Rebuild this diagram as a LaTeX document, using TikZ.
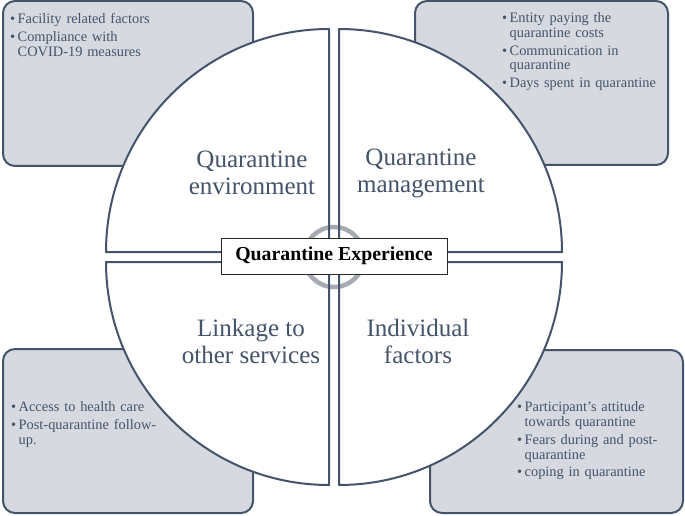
\documentclass[tikz,border=0pt]{standalone}
\usepackage{fontspec}
\setmainfont{Liberation Serif}
\usepackage{tikz}
\usetikzlibrary{positioning}
\definecolor{slate}{RGB}{68,84,106}
\definecolor{panelgrey}{RGB}{214,217,223}
\definecolor{ringgrey}{RGB}{166,170,178}
\newcommand{\bul}[1]{\par\hangindent=7.5pt\hangafter=1\noindent\makebox[7.5pt][l]{\textbullet}#1\par}

\begin{document}
\begin{tikzpicture}[x=1pt,y=1pt, every node/.style={text=slate}, panel/.style={draw=slate,line width=2pt,fill=panelgrey,rounded corners=12pt,inner sep=0pt}, items/.style={anchor=north west,inner sep=0pt,text width=240pt,align=left,font=\fontsize{14.4}{14.8}\selectfont,execute at begin node={\setlength{\parskip}{2.8pt}}}, lbl/.style={align=center,font=\fontsize{25}{27}\selectfont}, core/.style={draw=black!85,line width=0.9pt,fill=white,text=black,font=\bfseries\fontsize{19.8}{22}\selectfont,minimum width=226pt,minimum height=36pt,inner sep=0pt}, rim/.style={draw=slate,line width=2pt,line join=round}]
\useasboundingbox (0,0) rectangle (685,515);
% corner panels
\node[panel,minimum width=250pt,minimum height=165pt] (envbox) at (128,431.5) {};
\node[panel,minimum width=253pt,minimum height=164pt] (mgmtbox) at (541.5,432) {};
\node[panel,minimum width=250pt,minimum height=164pt] (linkbox) at (128,84) {};
\node[panel,minimum width=253pt,minimum height=163pt] (indbox) at (556.5,83.5) {};
\node[items] (envlist) at (10,509) {\bul{Facility related factors}\bul{Compliance with\newline COVID-19 measures}};
\node[items] (mgmtlist) at (502,510) {\bul{Entity paying the\newline quarantine costs}\bul{Communication in\newline quarantine}\bul{Days spent in quarantine}};
\node[items] (linklist) at (11,121) {\bul{Access to health care}\bul{Post-quarantine follow-\newline up.}};
\node[items] (indlist) at (517,121) {\bul{Participant's attitude\newline towards quarantine}\bul{Fears during and post-\newline quarantine}\bul{coping in quarantine}};
% circle quarters
\foreach \sx/\sy/\a in {-1/1/90, 1/1/0, 1/-1/270, -1/-1/180}
  \fill[white] (334+5*\sx,258+5*\sy) -- ++(\a:223) arc[start angle=\a,delta angle=90,radius=223] -- cycle;
\draw[ringgrey,line width=4.5pt] (334,258) circle[radius=30];
\foreach \sx/\sy/\a in {-1/1/90, 1/1/0, 1/-1/270, -1/-1/180}
  \draw[rim] (334+5*\sx,258+5*\sy) -- ++(\a:223) arc[start angle=\a,delta angle=90,radius=223] -- cycle;
\node[lbl] (envlbl) at (252,342) {Quarantine\\environment};
\node[lbl] (mgmtlbl) at (421,342) {Quarantine\\management};
\node[lbl] (linklbl) at (251,174) {Linkage to\\other services};
\node[lbl] (indlbl) at (418,174) {Individual\\factors};
\node[core] (exp) at (334,259) {Quarantine Experience};
\end{tikzpicture}
\end{document}
